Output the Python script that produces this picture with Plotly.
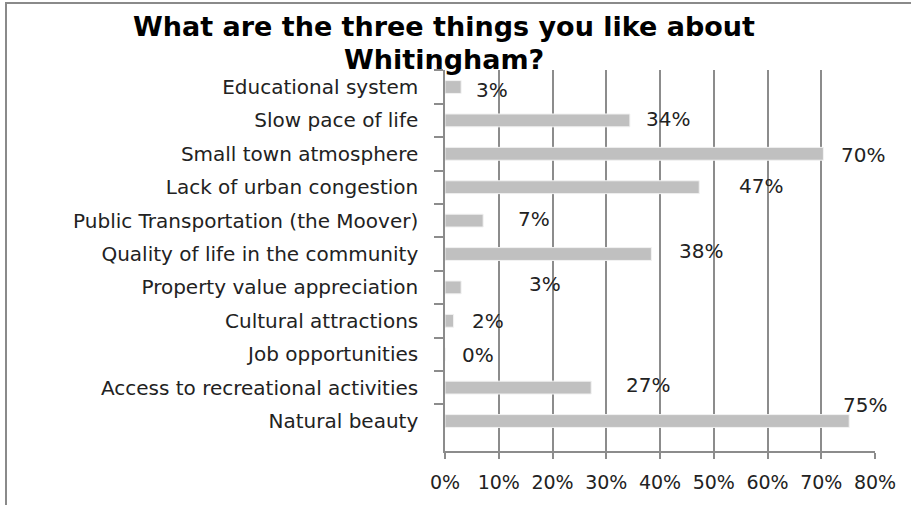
import plotly.graph_objects as go

# Survey responses: share of respondents naming each item
categories = [
    "Educational system",
    "Slow pace of life",
    "Small town atmosphere",
    "Lack of urban congestion",
    "Public Transportation (the Moover)",
    "Quality of life in the community",
    "Property value appreciation",
    "Cultural attractions",
    "Job opportunities",
    "Access to recreational activities",
    "Natural beauty",
]
shares = [0.030, 0.344, 0.704, 0.473, 0.071, 0.384, 0.030, 0.016, 0.0, 0.272, 0.752]
x_ticks = [0, 0.1, 0.2, 0.3, 0.4, 0.5, 0.6, 0.7, 0.8]
title_lines = ["What are the three things you like about", "Whitingham?"]

# Value-label placement relative to each bar end (pixels)
label_dx = [13, 14, 16, 38, 33, 26, 66, 16, 15, 33, -8]
label_dy = [-3, 1, -1, 1, 2, 3, 3, 0, -1, 3, 16]

W, H = 911, 505
ML, MR, MT, MB = 445, 36, 70, 54
PW, PH = W - ML - MR, H - MT - MB
FONT = "DejaVu Sans"
TXT = "#222222"
GRID = "#8c8c8c"


def px_x(px):
    return (px - ML) / PW


def px_y(py):
    return 1 + (MT - py) / PH


fig = go.Figure(
    go.Bar(
        x=shares,
        y=categories,
        orientation="h",
        marker=dict(color="#c0c0c0", line=dict(color="#f2f2f2", width=1)),
        hoverinfo="x+y",
    )
)

for cat, val, dx, dy in zip(categories, shares, label_dx, label_dy):
    fig.add_annotation(
        x=val, y=cat, xref="x", yref="y",
        text=f"{round(val * 100)}%",
        showarrow=False, xanchor="left", yanchor="middle",
        xshift=dx, yshift=dy,
        font=dict(family=FONT, size=20, color=TXT),
    )

# Two-line bold title
for line, cy in zip(title_lines, [27, 60]):
    fig.add_annotation(
        x=px_x(444), y=px_y(cy), xref="paper", yref="paper",
        text=f"<b>{line}</b>", showarrow=False,
        xanchor="center", yanchor="middle",
        font=dict(family=FONT, size=27, color="#000000"),
    )

# Outer chart border (left and top edges are visible)
fig.add_shape(
    type="rect", xref="paper", yref="paper",
    x0=px_x(6), x1=px_x(W + 4),
    y0=px_y(H + 4), y1=px_y(3),
    line=dict(color="#8a8a8a", width=2), fillcolor="rgba(0,0,0,0)",
    layer="below",
)

fig.update_layout(
    width=W, height=H,
    margin=dict(l=ML, r=MR, t=MT, b=MB, autoexpand=False),
    paper_bgcolor="white", plot_bgcolor="white",
    bargap=0.615,
    showlegend=False,
    font=dict(family=FONT, size=20, color=TXT),
    xaxis=dict(
        range=[0, 0.8], tickvals=x_ticks, tickformat=".0%",
        showgrid=True, gridcolor=GRID, gridwidth=1.5,
        showline=True, linecolor=GRID, linewidth=1.5,
        ticks="outside", ticklen=6, tickcolor=GRID, tickwidth=1.5,
        zeroline=False, fixedrange=True,
        ticklabelstandoff=7,
        tickfont=dict(family=FONT, size=19, color=TXT),
    ),
    yaxis=dict(
        autorange="reversed", type="category",
        showline=True, linecolor=GRID, linewidth=1.5,
        ticks="outside", ticklen=9, tickcolor=GRID, tickwidth=1.5,
        tickson="boundaries", showgrid=False,
        ticklabelstandoff=21,
        tickfont=dict(family=FONT, size=20, color=TXT),
    ),
)

fig.write_html("out.html")
